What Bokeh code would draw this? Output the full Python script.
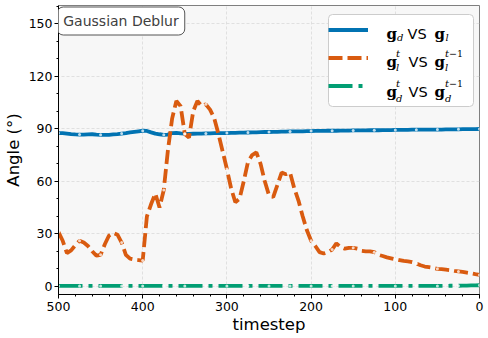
from bokeh.plotting import figure
from bokeh.models import (Range1d, SingleIntervalTicker, Label, Legend, LegendItem,
                          BoxAnnotation)
from bokeh.core.properties import value
from bokeh.embed import file_html
from bokeh.resources import INLINE

# ---------------- data ----------------
timesteps = list(range(500, -1, -5))

angle_gd_gl = [
    87.6, 87.6, 87.3, 87.0, 86.8, 86.7, 86.7, 86.8, 86.9, 86.7,
    86.6, 86.5, 86.6, 86.8, 87.0, 87.3, 87.6, 88.0, 88.3, 88.6,
    88.9, 88.8, 88.0, 87.3, 86.9, 86.6, 86.7, 87.6, 87.7, 87.4,
    87.2, 87.1, 87.2, 87.3, 87.3, 87.4, 87.4, 87.5, 87.5, 87.6,
    87.6, 87.7, 87.7, 87.8, 87.8, 87.9, 88.0, 88.0, 88.1, 88.2,
    88.2, 88.3, 88.3, 88.4, 88.4, 88.5, 88.5, 88.6, 88.6, 88.7,
    88.7, 88.8, 88.8, 88.8, 88.9, 88.9, 88.9, 89.0, 89.0, 89.0,
    89.1, 89.1, 89.1, 89.1, 89.2, 89.2, 89.2, 89.3, 89.3, 89.3,
    89.4, 89.4, 89.4, 89.4, 89.5, 89.5, 89.5, 89.5, 89.6, 89.6,
    89.6, 89.6, 89.7, 89.7, 89.7, 89.7, 89.8, 89.8, 89.8, 89.8,
    89.9,
]

angle_gl_prev = [
    31.0, 26.0, 19.0, 20.5, 23.5, 26.0, 25.0, 23.0, 20.0, 17.5,
    18.0, 24.0, 29.0, 30.5, 29.5, 25.0, 18.0, 15.8, 15.3, 15.0,
    14.7, 40.0, 47.0, 53.0, 45.0, 55.0, 78.0, 96.0, 106.0, 103.0,
    87.0, 85.0, 100.0, 106.0, 103.0, 104.0, 101.0, 96.0, 87.0, 77.0,
    67.0, 56.0, 48.0, 50.0, 60.0, 71.0, 75.0, 76.5, 70.0, 60.0,
    52.0, 51.0, 58.0, 65.0, 64.0, 65.0, 56.0, 49.0, 40.0, 32.0,
    26.0, 23.0, 19.5, 18.7, 19.5, 21.0, 24.5, 22.5, 21.5, 22.0,
    22.0, 21.5, 20.3, 20.0, 20.0, 19.5, 18.0, 17.3, 16.5, 16.0,
    15.5, 15.0, 14.5, 14.2, 13.8, 13.0, 12.0, 11.3, 10.9, 10.5,
    10.0, 9.8, 9.5, 9.2, 8.8, 8.5, 8.2, 7.8, 7.4, 6.9,
    6.5,
]

angle_gd_prev = [
    0.2, 0.2, 0.2, 0.2, 0.2, 0.2, 0.2, 0.2, 0.2, 0.2,
    0.2, 0.2, 0.2, 0.2, 0.2, 0.2, 0.2, 0.2, 0.2, 0.2,
    0.2, 0.2, 0.2, 0.2, 0.2, 0.2, 0.2, 0.2, 0.2, 0.2,
    0.2, 0.2, 0.2, 0.2, 0.2, 0.2, 0.2, 0.2, 0.2, 0.2,
    0.2, 0.2, 0.2, 0.2, 0.2, 0.2, 0.2, 0.2, 0.2, 0.2,
    0.2, 0.2, 0.2, 0.2, 0.2, 0.2, 0.2, 0.2, 0.2, 0.2,
    0.2, 0.2, 0.2, 0.2, 0.2, 0.2, 0.2, 0.2, 0.2, 0.2,
    0.2, 0.2, 0.2, 0.2, 0.2, 0.2, 0.2, 0.2, 0.2, 0.2,
    0.2, 0.2, 0.2, 0.2, 0.2, 0.2, 0.2, 0.2, 0.2, 0.2,
    0.2, 0.2, 0.2, 0.3, 0.3, 0.3, 0.4, 0.4, 0.5, 0.5,
    0.6,
]

x_ticks_interval = 100
y_ticks_interval = 30
x_label = "timestep"
y_label = "Angle (°)"
box_title = "Gaussian Deblur"

# ---------------- styling ----------------
BLUE = "#0173B2"
ORANGE = "#D95B10"
GREEN = "#029E73"
LW = 3.8

W, H = 488, 338
ML, MR, MT, MB = 54, 9, 5, 44

p = figure(width=W, height=H, output_backend="svg", toolbar_location=None,
           x_range=Range1d(500, 0), y_range=Range1d(-4.7, 160.5),
           min_border_left=ML, min_border_right=MR, min_border_top=MT,
           min_border_bottom=MB)
p.background_fill_color = "#f7f7f7"
p.border_fill_color = "white"
p.outline_line_color = "#7f7f7f"
p.outline_line_width = 1

xt = SingleIntervalTicker(interval=x_ticks_interval, num_minor_ticks=5)
yt = SingleIntervalTicker(interval=y_ticks_interval, num_minor_ticks=3)
p.xaxis.ticker = xt
p.yaxis.ticker = yt
p.xgrid.ticker = xt
p.ygrid.ticker = yt
for g in (p.xgrid, p.ygrid):
    g.grid_line_color = "#d9d9d9"
    g.grid_line_dash = "3 2"
    g.grid_line_width = 0.8

for ax in (p.xaxis, p.yaxis):
    ax.axis_line_color = "black"
    ax.axis_line_width = 1
    ax.major_tick_line_color = "black"
    ax.minor_tick_line_color = "black"
    ax.major_tick_out = 4
    ax.major_tick_in = 0
    ax.minor_tick_out = 2
    ax.minor_tick_in = 0
    ax.major_label_text_font = "DejaVu Sans"
    ax.major_label_text_font_size = "12.5px"
    ax.major_label_text_color = "black"
    ax.axis_label_text_font = "DejaVu Sans"
    ax.axis_label_text_font_size = "16.5px"
    ax.axis_label_text_font_style = "normal"
    ax.axis_label_text_color = "black"
p.xaxis.axis_label = x_label
p.yaxis.axis_label = y_label
p.xaxis.major_label_standoff = 3
p.yaxis.major_label_standoff = 2
p.xaxis.axis_label_standoff = 1
p.yaxis.axis_label_standoff = 3

# page -> frame-relative screen coordinates
FRAME_LEFT_PAGE = ML
FRAME_BOTTOM_PAGE = H - MB


def sx(px):
    return px - FRAME_LEFT_PAGE


def sy(py):
    return FRAME_BOTTOM_PAGE - py


# legend frame (white rounded box) drawn beneath everything else
p.add_layout(BoxAnnotation(left=sx(324), right=sx(469), top=sy(14), bottom=sy(106),
                           left_units="screen", right_units="screen",
                           top_units="screen", bottom_units="screen",
                           fill_color="white", fill_alpha=1.0,
                           line_color="#cccccc", line_width=1, line_alpha=1.0,
                           border_radius=4, level="underlay"))

# ---------------- series ----------------
r_blue = p.line(timesteps, angle_gd_gl, line_color=BLUE, line_width=LW)
r_orange = p.line(timesteps, angle_gl_prev, line_color=ORANGE, line_width=LW,
                  line_dash="14 5")
r_green = p.line(timesteps, angle_gd_prev, line_color=GREEN, line_width=LW,
                 line_dash="24 6 4 6")
for ys in (angle_gd_gl, angle_gl_prev, angle_gd_prev):
    p.scatter(timesteps[::5], ys[::5], size=3, marker="circle",
              fill_color="white", fill_alpha=0.75, line_color=None)

# ---------------- legend (glyph samples only) ----------------
legend = Legend(items=[LegendItem(label=value(" "), renderers=[r]) for r in (r_blue, r_orange, r_green)],
                location=(sx(324), sy(96)), margin=0, padding=5, spacing=7,
                glyph_width=40, glyph_height=21, label_height=21, label_width=87,
                label_standoff=8, label_text_font_size="2px",
                border_line_color=None, background_fill_alpha=0.0)
p.add_layout(legend)

TEXT_SHIFT = 4  # move legend text up slightly
pieces = [
    # row 1: g_d VS g_l
    ("g", 382, 37, "serif_b"), ("d", 392.5, 40.5, "sub"), ("VS", 403, 37, "sans"),
    ("g", 430, 37, "serif_b"), ("l", 441, 40.5, "sub"),
    # row 2: g_l^t VS g_l^{t-1}
    ("g", 382, 65, "serif_b"), ("t", 391.5, 56.5, "sub"), ("l", 391.5, 71, "sub"),
    ("VS", 404, 65, "sans"),
    ("g", 430, 65, "serif_b"), ("t", 440.5, 56.5, "sub"), ("−1", 444.5, 56.5, "up"),
    ("l", 440.5, 71, "sub"),
    # row 3: g_d^t VS g_d^{t-1}
    ("g", 382, 95, "serif_b"), ("t", 391.5, 86.5, "sub"), ("d", 391.5, 101.5, "sub"),
    ("VS", 404, 95, "sans"),
    ("g", 430, 95, "serif_b"), ("t", 440.5, 86.5, "sub"), ("−1", 444.5, 86.5, "up"),
    ("d", 440.5, 101.5, "sub"),
]
styles = {
    "serif_b": ("DejaVu Serif", "15px", "bold"),
    "sub": ("DejaVu Serif", "10px", "italic"),
    "up": ("DejaVu Serif", "9.5px", "normal"),
    "sans": ("DejaVu Sans", "14.5px", "normal"),
}
for txt, px, py, st in pieces:
    f, s, fs = styles[st]
    p.add_layout(Label(x=sx(px), y=sy(py - TEXT_SHIFT), x_units="screen", y_units="screen",
                       text=txt, text_font=f, text_font_size=s, text_font_style=fs,
                       text_color="black", text_align="left",
                       text_baseline="alphabetic", level="overlay"))

# ---------------- title box ----------------
p.add_layout(Label(x=sx(116.5), y=sy(20.5), x_units="screen", y_units="screen",
                   text=box_title, text_font="DejaVu Sans", text_font_size="14px",
                   text_color="#404040", text_align="center", text_baseline="middle",
                   background_fill_color="white", border_line_color="#555555",
                   border_line_width=1, border_radius=6, padding=6, level="overlay"))

open("out.html", "w").write(file_html(p, INLINE))
